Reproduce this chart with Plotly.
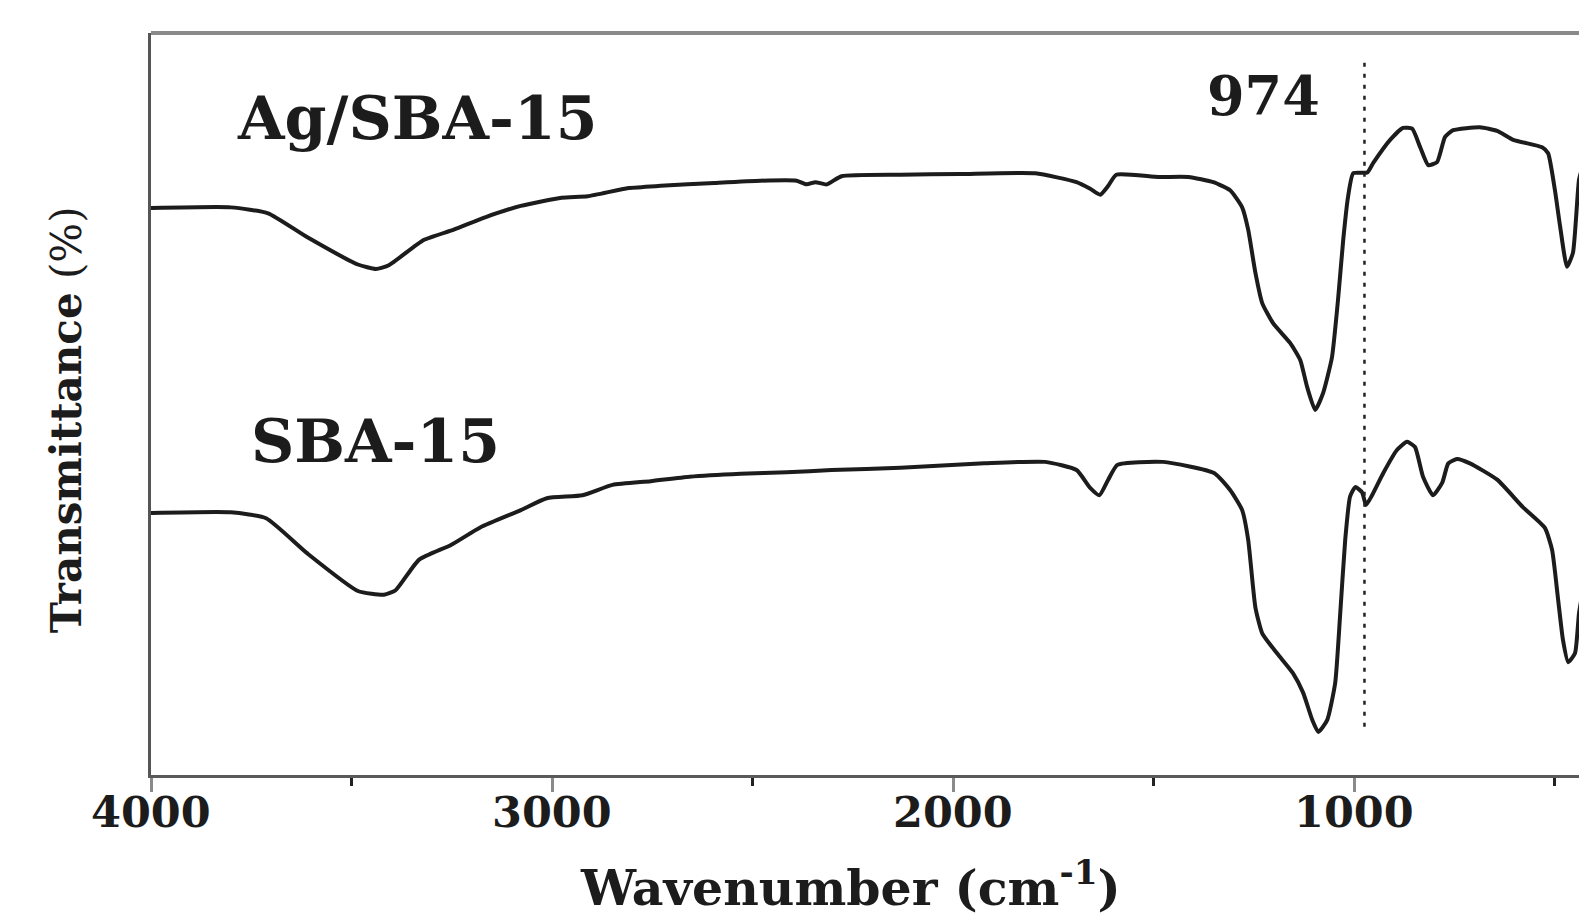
import plotly.graph_objects as go

# ---- data (wavenumber in cm-1, transmittance in arbitrary %) ----
ag_wavenumber = [4000, 3801, 3708, 3611, 3484, 3439, 3407, 3320, 3245, 3165, 3078, 2976, 2911,
                 2809, 2729, 2595, 2480, 2390, 2365, 2343, 2315, 2278, 2131, 1982, 1795, 1692,
                 1658, 1633, 1613, 1593, 1488, 1413, 1351, 1309, 1279, 1264, 1246, 1229, 1202,
                 1159, 1134, 1117, 1097, 1077, 1055, 1040, 1027, 1015, 1002, 967, 952, 910, 878,
                 855, 835, 815, 793, 773, 753, 686, 643, 603, 531, 516, 499, 486, 469, 454, 439, 429]
ag_transmittance = [76.4, 76.5, 75.7, 72.5, 68.8, 68.2, 68.7, 72.1, 73.5, 75.2, 76.7, 77.8, 78.0,
                    79.1, 79.4, 79.8, 80.1, 80.1, 79.6, 79.9, 79.6, 80.7, 80.9, 81.0, 81.1, 79.9,
                    79.0, 78.2, 79.4, 80.9, 80.6, 80.6, 79.9, 78.8, 76.5, 73.5, 67.7, 63.6, 60.9,
                    58.2, 55.9, 52.3, 49.2, 51.5, 56.3, 64.0, 72.1, 77.9, 81.1, 81.2, 82.5, 85.6, 87.2,
                    87.1, 84.6, 82.2, 82.6, 86.0, 86.9, 87.3, 86.8, 85.6, 84.6, 83.8, 78.8, 73.9, 68.5, 70.4, 80.2, 82.2]

sba_wavenumber = [4000, 3801, 3713, 3611, 3484, 3419, 3390, 3332, 3252, 3178, 3078, 3013, 2924,
                  2849, 2754, 2657, 2530, 2415, 2303, 2131, 1922, 1770, 1692, 1658, 1635, 1613,
                  1590, 1476, 1349, 1309, 1279, 1264, 1246, 1229, 1192, 1152, 1127, 1104, 1089,
                  1067, 1047, 1035, 1022, 1010, 997, 980, 970, 955, 927, 893, 868, 848, 828, 803,
                  780, 765, 743, 711, 643, 579, 524, 506, 491, 479, 466, 449, 439, 429]
sba_transmittance = [35.3, 35.4, 34.6, 29.9, 24.8, 24.3, 24.9, 29.0, 31.0, 33.4, 35.7, 37.3, 37.7,
                     39.1, 39.6, 40.2, 40.6, 40.8, 41.1, 41.4, 42.0, 42.2, 41.1, 38.7, 37.7, 39.8,
                     41.8, 42.2, 40.7, 38.4, 35.7, 31.7, 22.6, 19.1, 16.4, 13.7, 11.1, 7.4, 5.8,
                     7.4, 12.4, 21.3, 31.7, 37.5, 38.8, 38.1, 36.4, 37.7, 40.7, 43.8, 44.9, 44.2, 40.2, 37.7,
                     39.4, 42.0, 42.6, 42.0, 39.8, 36.1, 33.3, 30.3, 23.6, 18.2, 15.2, 16.4, 21.8, 24.9]

x_tick_values = [4000, 3000, 2000, 1000]
x_tick_labels = ["4000", "3000", "2000", "1000"]
series_names = ["Ag/SBA-15", "SBA-15"]
peak_wavenumber = 974
peak_label = "974"
x_title = "Wavenumber (cm<sup>-1</sup>)"
y_title = "<b>Transmittance</b> (%)"

FONT = "DejaVu Serif"
INK = "#1c1c1c"

fig = go.Figure()
for wn, tr, name in [(ag_wavenumber, ag_transmittance, series_names[0]),
                     (sba_wavenumber, sba_transmittance, series_names[1])]:
    fig.add_trace(go.Scatter(x=wn, y=tr, name=name, mode="lines",
                             line=dict(color=INK, width=4, shape="spline", smoothing=0.5),
                             showlegend=False, hoverinfo="skip"))

# dotted marker line at the 974 band
fig.add_shape(type="line", xref="x", yref="paper", x0=peak_wavenumber, x1=peak_wavenumber,
              y0=0.065, y1=0.965, line=dict(color="#222222", width=2.5, dash="4px,7px"))
# top frame line
fig.add_shape(type="line", xref="paper", yref="paper", x0=0, x1=1, y0=1, y1=1,
              line=dict(color="#8a8a8a", width=4))

label_font = dict(family=FONT, size=60, color=INK, weight="bold")
fig.add_annotation(text=series_names[0], xref="paper", yref="paper", x=0.186, y=0.885,
                   xanchor="center", yanchor="middle", showarrow=False, font=label_font)
fig.add_annotation(text=series_names[1], xref="paper", yref="paper", x=0.157, y=0.450,
                   xanchor="center", yanchor="middle", showarrow=False, font=label_font)
fig.add_annotation(text=peak_label, xref="paper", yref="paper", x=0.779, y=0.915,
                   xanchor="center", yanchor="middle", showarrow=False,
                   font=dict(family=FONT, size=54, color=INK, weight="bold"))
fig.add_annotation(text=x_title, xref="paper", yref="paper", x=0.490, y=-0.148,
                   xanchor="center", yanchor="middle", showarrow=False,
                   font=dict(family=FONT, size=49, color=INK, weight="bold"))
fig.add_annotation(text=y_title, xref="paper", yref="paper", x=-0.0595, y=0.478,
                   xanchor="center", yanchor="middle", showarrow=False, textangle=-90,
                   font=dict(family=FONT, size=42, color=INK))
for v, lab in zip(x_tick_values, x_tick_labels):
    fig.add_annotation(text=lab, xref="x", yref="paper", x=v, y=-0.0505,
                       xanchor="center", yanchor="middle", showarrow=False,
                       font=dict(family=FONT, size=43, color=INK, weight="bold"))

fig.update_layout(
    width=1579, height=918,
    margin=dict(l=151, r=0, t=33, b=143),
    paper_bgcolor="white", plot_bgcolor="white",
    xaxis=dict(range=[4000, 439], tickmode="array", tickvals=x_tick_values,
               showticklabels=False,
               ticks="outside", ticklen=14, tickwidth=3, tickcolor="#8a8a8a",
               showline=True, linecolor="#5a5a5a", linewidth=3,
               showgrid=False, zeroline=False,
               minor=dict(ticks="outside", ticklen=8, tickwidth=3, tickcolor="#222222",
                          dtick=500, tick0=0, showgrid=False)),
    yaxis=dict(range=[0, 100], showticklabels=False, ticks="", showline=True,
               linecolor="#555555", linewidth=3, showgrid=False, zeroline=False),
)

# remove the browser's default 8px body margin so the figure fills the window exactly
fig.write_html("out.html", config={"displayModeBar": False},
               post_script="document.body.style.margin='0';document.body.style.overflow='hidden';")
